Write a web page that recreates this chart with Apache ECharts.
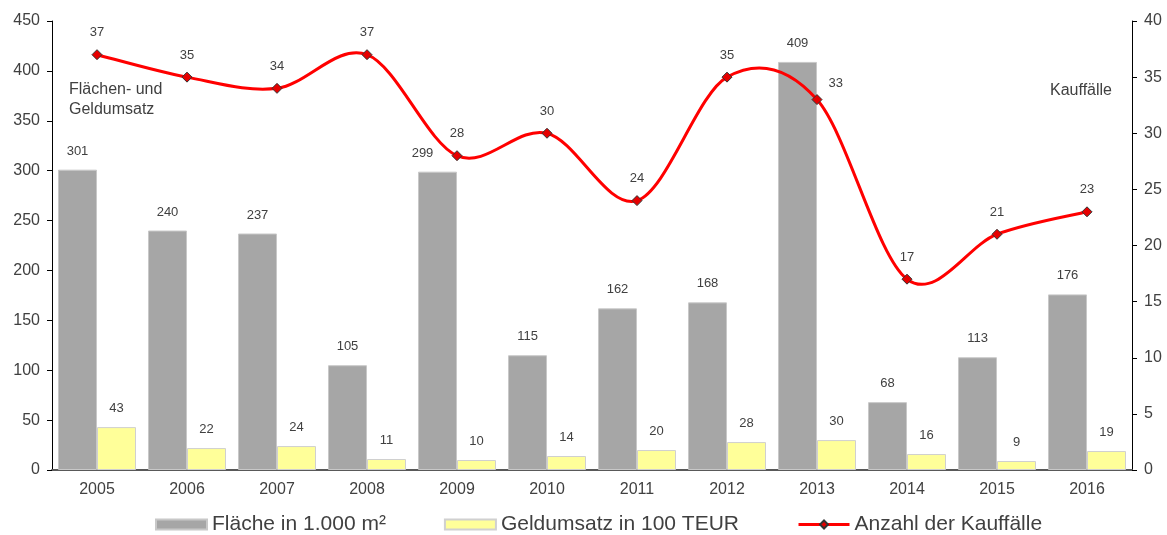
<!DOCTYPE html>
<html>
<head>
<meta charset="utf-8">
<script src="https://cdn.jsdelivr.net/npm/echarts@6/dist/echarts.min.js"></script>
<style>
  html, body { margin: 0; padding: 0; background: #fff; }
  #chart { width: 1167px; height: 535px; }
</style>
</head>
<body>
<div id="chart"></div>
<script>
// Daten
const years = ["2005", "2006", "2007", "2008", "2009", "2010", "2011", "2012", "2013", "2014", "2015", "2016"];
const flaeche = [301, 240, 237, 105, 299, 115, 162, 168, 409, 68, 113, 176];
const geldumsatz = [43, 22, 24, 11, 10, 14, 20, 28, 30, 16, 9, 19];
const kauffaelle = [37, 35, 34, 37, 28, 30, 24, 35, 33, 17, 21, 23];

const textColor = "#404040";
const fontFam = "Arial, 'Liberation Sans', sans-serif";

let myChart = echarts.init(document.getElementById("chart"));

// einzelne Labels verschoben wie im Original
let barData = flaeche.map((v, i) =>
  i === 4 ? { value: v, label: { offset: [-15, 0] } } : v
);
let lineData = kauffaelle.map((v, i) =>
  i === 8 ? { value: v, label: { position: "right", offset: [-4, -16] } } : v
);

// geglaettete Kurve (Excel-artig, Catmull-Rom) - ein Segment je Datenpunkt
function renderCurve(params, api) {
  const n = kauffaelle.length;
  const i = params.dataIndex;
  if (i >= n - 1) return null;
  const pt = j => {
    const k = Math.max(0, Math.min(n - 1, j));
    return api.coord([k, kauffaelle[k]]);
  };
  const p0 = pt(i - 1), p1 = pt(i), p2 = pt(i + 1), p3 = pt(i + 2);
  return {
    type: "bezierCurve",
    shape: {
      x1: p1[0], y1: p1[1],
      x2: p2[0], y2: p2[1],
      cpx1: p1[0] + (p2[0] - p0[0]) / 6,
      cpy1: p1[1] + (p2[1] - p0[1]) / 6,
      cpx2: p2[0] - (p3[0] - p1[0]) / 6,
      cpy2: p2[1] - (p3[1] - p1[1]) / 6
    },
    style: { stroke: "#ff0000", lineWidth: 3, fill: null }
  };
}

myChart.setOption({
  animation: false,
  textStyle: { fontFamily: fontFam },
  grid: { left: 52, right: 35, top: 21, bottom: 65 },
  legend: {
    bottom: -5,
    left: 150,
    itemWidth: 51,
    itemHeight: 10,
    itemGap: 58,
    textStyle: { color: textColor, fontSize: 21, fontFamily: fontFam },
    data: [
      { name: "Fläche in 1.000 m²", icon: "rect" },
      { name: "Geldumsatz in 100 TEUR", icon: "rect" },
      { name: "Anzahl der Kauffälle", lineStyle: { color: "#ff0000", width: 3, opacity: 1 } }
    ]
  },
  graphic: [
    {
      type: "text",
      left: 69,
      top: 80,
      style: {
        text: "Flächen- und\nGeldumsatz",
        fill: textColor,
        font: "16px " + fontFam,
        lineHeight: 20
      }
    },
    {
      type: "text",
      left: 1050,
      top: 83,
      style: { text: "Kauffälle", fill: textColor, font: "16px " + fontFam }
    }
  ],
  xAxis: {
    type: "category",
    data: years,
    axisLine: { lineStyle: { color: "#595959", width: 2 } },
    axisTick: { length: 6, lineStyle: { color: "#404040" } },
    axisLabel: { color: textColor, fontSize: 16, margin: 12 }
  },
  yAxis: [
    {
      type: "value",
      min: 0,
      max: 450,
      interval: 50,
      splitLine: { show: false },
      axisLine: { show: true, lineStyle: { color: "#000" } },
      axisTick: { show: true, length: 5, lineStyle: { color: "#000" } },
      axisLabel: { color: textColor, fontSize: 16, margin: 12 }
    },
    {
      type: "value",
      min: 0,
      max: 40,
      interval: 5,
      splitLine: { show: false },
      axisLine: { show: true, lineStyle: { color: "#000" } },
      axisTick: { show: true, length: 5, lineStyle: { color: "#000" } },
      axisLabel: { color: textColor, fontSize: 16, margin: 12 }
    }
  ],
  series: [
    {
      name: "Fläche in 1.000 m²",
      type: "bar",
      data: barData,
      barWidth: 39,
      barGap: "0%",
      itemStyle: { color: "#a6a6a6", borderColor: "#c8c8c8", borderWidth: 1 },
      label: { show: true, position: "top", distance: 12, color: textColor, fontSize: 13 }
    },
    {
      name: "Geldumsatz in 100 TEUR",
      type: "bar",
      data: geldumsatz,
      barWidth: 39,
      barGap: "0%",
      itemStyle: { color: "#ffff99", borderColor: "#d0d0d0", borderWidth: 1 },
      label: { show: true, position: "top", distance: 12, color: textColor, fontSize: 13 }
    },
    {
      name: "Kurve",
      type: "custom",
      yAxisIndex: 1,
      data: kauffaelle.map((v, i) => [i, v]),
      renderItem: renderCurve,
      silent: true,
      z: 4
    },
    {
      name: "Anzahl der Kauffälle",
      type: "line",
      yAxisIndex: 1,
      data: lineData,
      symbol: "diamond",
      symbolSize: 10,
      lineStyle: { color: "#ff0000", width: 3, opacity: 0 },
      itemStyle: { color: "#e60000", borderColor: "#333", borderWidth: 1 },
      label: { show: true, position: "top", distance: 10, color: textColor, fontSize: 13 },
      z: 5
    }
  ]
});

window.onresize = myChart.resize;
</script>
</body>
</html>
